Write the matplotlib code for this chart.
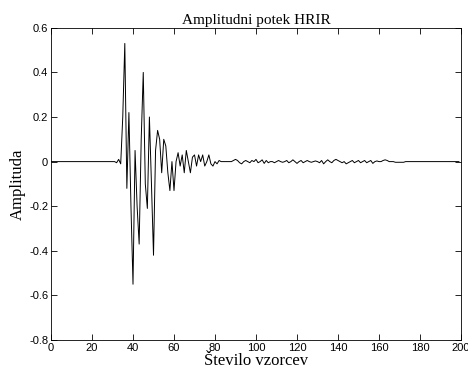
import numpy as np
import matplotlib.pyplot as plt

# HRIR amplitude, one value per sample
onset = [0.0] * 31 + [0.0, -0.005, 0.01, -0.01]
burst = [0.2, 0.53, -0.12, 0.22, -0.2, -0.55, 0.05, -0.2, -0.37, 0.1,
         0.40, -0.1, -0.21, 0.2, -0.1, -0.42, 0.05, 0.14, 0.1, -0.05,
         0.1, 0.07, -0.05, -0.13, 0.0, -0.13, 0.0, 0.04, -0.02, 0.03,
         -0.05, 0.05, 0.0, -0.05, 0.02, 0.03, -0.02, 0.03, 0.0, 0.03,
         -0.02, 0.0, 0.03, -0.01, -0.02, 0.0, -0.01, 0.005]
tail = [0.0, 0.0, 0.0, 0.0, 0.0, 0.0, 0.005,
        0.01, 0.005, -0.005, -0.01, 0.0, 0.005, 0.0, -0.005, 0.005, 0.0,
        0.01, -0.005, 0.0, 0.008, -0.008, 0.005, -0.005, 0.0, 0.0, -0.005,
        0.0, 0.005, 0.0, -0.003, 0.0, 0.005, -0.005, 0.0, 0.008, 0.0,
        -0.008, 0.0, 0.005, -0.005, 0.0, 0.005, 0.0, -0.003, 0.0, 0.003,
        0.0, -0.005, 0.005, -0.01, 0.0, 0.008, 0.0, -0.005, 0.005, 0.01,
        0.005, 0.0, -0.005, 0.0, -0.01, -0.005, 0.0, 0.005, -0.005, 0.0,
        0.005, -0.005, 0.0, 0.005, -0.005, 0.0, 0.005, -0.008, 0.0, 0.003,
        0.0, 0.0, 0.005, 0.008, 0.005, 0.0, 0.0, 0.0, -0.003, -0.003,
        -0.003, -0.003, -0.003, 0.0, 0.0, 0.0, 0.0, 0.0, 0.0, 0.0,
        0.0, 0.0, 0.0, 0.0, 0.0, 0.0, 0.0, 0.0, 0.0, 0.0,
        0.0, 0.0, 0.0, 0.0, 0.0, 0.0, 0.0, 0.0, 0.0, 0.0]

amplitude = onset + burst + tail
samples = np.arange(len(amplitude))

x_ticks = [0, 20, 40, 60, 80, 100, 120, 140, 160, 180, 200]
y_ticks = [-0.8, -0.6, -0.4, -0.2, 0, 0.2, 0.4, 0.6]
y_labels = ['-0.8', '-0.6', '-0.4', '-0.2', '0', '0.2', '0.4', '0.6']

fig = plt.figure(figsize=(4.68, 3.71), dpi=100)
ax = fig.add_axes([0.109, 0.0836, 0.876, 0.8414])
ax.plot(samples, amplitude, color='black', linewidth=0.7)

ax.set_xlim(0, 200)
ax.set_ylim(-0.8, 0.6)
ax.set_xticks(x_ticks)
ax.set_xticklabels([str(t) for t in x_ticks], family='Liberation Sans', fontsize=8)
ax.set_yticks(y_ticks)
ax.set_yticklabels(y_labels, family='Liberation Sans', fontsize=8)
ax.tick_params(direction='in', length=4, width=0.6, top=True, right=True, pad=2)
for spine in ax.spines.values():
    spine.set_linewidth(0.6)

ax.set_title('Amplitudni potek HRIR', family='Liberation Serif', fontsize=11, pad=3)
ax.set_xlabel('Število vzorcev', family='Liberation Serif', fontsize=12, labelpad=0)
ax.set_ylabel('Amplituda', family='Liberation Serif', fontsize=12, labelpad=2)

fig.savefig('out.png', dpi=100)
